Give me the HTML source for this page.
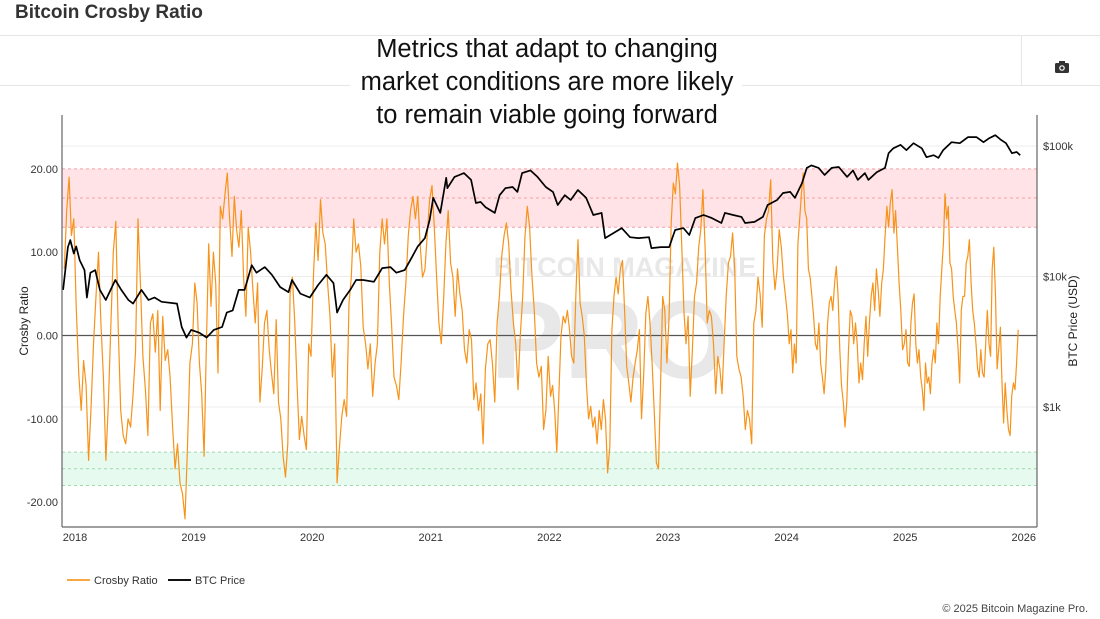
<!DOCTYPE html>
<html><head><meta charset="utf-8"><style>
body{margin:0;background:#fff;font-family:"Liberation Sans",sans-serif;}
#wrap{position:relative;width:1100px;height:619px;overflow:hidden;background:#fff}
</style></head><body>
<div id="wrap">
<svg id="chart" width="1100" height="619" xmlns="http://www.w3.org/2000/svg">
<text x="15" y="18" font-size="19" font-weight="bold" fill="#333">Bitcoin Crosby Ratio</text>
<line x1="0" y1="35.5" x2="1100" y2="35.5" stroke="#e6e6e6"/>
<line x1="0" y1="85.5" x2="1100" y2="85.5" stroke="#e6e6e6"/>
<line x1="1021.5" y1="35" x2="1021.5" y2="85" stroke="#e6e6e6"/>
<g transform="translate(1062,68)">
<rect x="-7" y="-5" width="14" height="10" rx="1.5" fill="#333"/><rect x="-3" y="-7" width="6" height="3" fill="#333"/><circle cx="0" cy="0" r="2.8" fill="#fff"/><circle cx="0" cy="0" r="1.6" fill="#333"/>
</g>
<g id="plot"></g>
<rect x="350" y="36" width="392" height="92" fill="#fff"/>
<g font-size="25.5" fill="#111" text-anchor="middle">
<text x="547" y="57">Metrics that adapt to changing</text>
<text x="547" y="90">market conditions are more likely</text>
<text x="547" y="123">to remain viable going forward</text>
</g>
<g font-size="11" fill="#333">
<g><line x1="67" y1="580" x2="90" y2="580" stroke="#f7a845" stroke-width="2"/><text x="94" y="584">Crosby Ratio</text></g>
<g><line x1="168" y1="580" x2="191" y2="580" stroke="#111" stroke-width="2"/><text x="195" y="584">BTC Price</text></g>
</g>
<text x="1088" y="612" font-size="11" fill="#444" text-anchor="end">© 2025 Bitcoin Magazine Pro.</text>
</svg>
</div>
<script>
// ---- data ----
const segStart = [2017.9, 2018, 2019, 2020, 2021, 2022, 2023, 2024, 2025];
const segEnd   = [2018, 2019, 2020, 2021, 2022, 2023, 2024, 2025, 2025.96];
const crosby2017 = [8,15,19,12,14];
const crosby2018 = [3.5,-4.5,-9,-3,-6,-15,-8.5,-1,4.7,10,1.5,-5,-15,-8,1,10,13.7,1,-9,-12,-13,-10,-11,-7,-2,14,6,-2.5,-6.5,-12,1.5,2.6,-2,3,-9,2.3,-3,-1.7,-5,-11,-16,-13,-17.7,-19,-22,-13.7,-3.3,-1];
const crosby2019 = [6.3,3.9,-3.3,-7,-14.5,-1,11,3.5,10,6.3,-4.5,15.5,14,17,19.5,14,9.5,16.7,12.7,10.6,15,7,2.3,13,10,5.5,1.5,6.3,-8,-4,1.5,3,-1.7,-4.5,-7,1.9,-8,-10,-14.5,-17,-13,5,7,1.5,-6,-12.5,-9.7,-12,-13.7,-1,-2.5];
const crosby2020 = [7,13.5,9,16.3,12.3,11,6.3,2.3,-5,-1,-17.7,-13.3,-9.7,-7.7,-9.7,3.9,7,14,10,11,8.3,1,-1,-4,-1,-7.3,-3.3,-1,10,14,11,14,6.3,1,-5,-6,-7.7,-3.3,2.3,6.3,12,15,16.7,14,16.7,11,7,7.9,12,16.3];
const crosby2021 = [18,13,7,1.5,-1,4.3,11,15,8.7,7,2.3,8,5,3,-1.7,-3.3,0.7,-0.5,-7.7,-5.7,-9,-7,-13,-4,-1,-0.5,-3.3,-8,1.5,4.7,9.5,12,13.5,11,5.5,1.5,-1,-6.5,0,4.7,12,15.5,13,7,3,-3.3,-5,-3.7,-11.3,-9,-2.5];
const crosby2022 = [-7.3,-6,-9,-14,-7,0,2.3,1.5,3,0.7,-2.5,-3.3,5,11.5,3.9,2.3,0,-6,-10,-8.5,-11,-9.8,-13,-9,-11.3,-7.7,-10,-16.5,-13.4,0.7,4.7,7,5,8,9,3,-3.7,-5.7,-8,-5,-3.3,-1.7,0.7,-10,-5,2.6,4.7,1.5,-3.3,-9,-15.3,-16,-5.7,4.7,3,-3.3];
const crosby2023 = [2.3,13.5,18.3,17,20.7,18,10.6,3,-1,2.3,-7.3,-1.7,4.7,6.3,10.6,12.7,17.5,10.6,1.5,3,2.3,-1,-7,-2.5,-4,-7,-1,4.7,8.7,9.5,12.3,8,-2.5,-4,-5,-7.3,-11.3,-9,-10,-13,1.5,3,7,5,1,12,14,15,18.7,9,5.5,8,12.7,10.6,7,4.7];
const crosby2024 = [2.3,-1,0.7,-4.5,-1,-3.3,11,14,17,19.5,15,14,8,7,4.7,2.3,-1,-1.7,1.5,-3.3,-5,-7,-4,1.5,3.9,4.7,3,6.3,8.3,4.7,-1.7,-6,-8,-11,-8,-1.7,3,2.3,-1,1.5,-1,-5.7,-3.3,-5.3,-1,2.3,-2.5,1.5,4.7,6.3,3,8,5.5,2.3,6.3,8,12,15.5,13,16,17.5,12.3,15,10.6,6.3,3,-1.7,-1];
const crosby2025 = [0.7,-3.3,-3.7,1.5,3.9,5,-1,-3.3,-1.7,-5,-6.5,-9,-3.3,-5.7,-5,-7,-3.3,-1.7,-3.3,1.5,-1,4.7,8,11,17,14,15.5,8.7,8,4.7,3,1.5,-1.7,-5.7,3,4.7,4.7,8.7,9.5,11.5,6.3,3,1.5,-1,-4,-5,-1.7,-4.5,-5,-1,3,-1,-2.5,8,10.6,4.7,-4,-1.7,1,-5.7,-10.5,-5.7,-9,-11.3,-12,-7.3,-5.7,-6.5,-3.3,0.7];
const crosbySegments = [crosby2017,crosby2018,crosby2019,crosby2020,crosby2021,crosby2022,crosby2023,crosby2024,crosby2025];

const priceDates = [2017.90,2017.94,2017.96,2017.99,2018.01,2018.04,2018.08,2018.10,2018.13,2018.17,2018.21,2018.26,2018.30,2018.34,2018.39,2018.45,2018.49,2018.56,2018.62,2018.67,2018.73,2018.86,2018.90,2018.94,2018.98,2019.05,2019.11,2019.17,2019.24,2019.28,2019.33,2019.38,2019.43,2019.49,2019.53,2019.60,2019.66,2019.73,2019.80,2019.83,2019.90,2019.98,2020.05,2020.12,2020.18,2020.21,2020.26,2020.32,2020.37,2020.43,2020.52,2020.59,2020.66,2020.71,2020.78,2020.84,2020.89,2020.95,2020.99,2021.02,2021.08,2021.13,2021.14,2021.20,2021.24,2021.28,2021.34,2021.38,2021.42,2021.46,2021.54,2021.58,2021.63,2021.69,2021.73,2021.77,2021.84,2021.90,2021.97,2022.03,2022.07,2022.13,2022.18,2022.24,2022.31,2022.37,2022.44,2022.47,2022.54,2022.61,2022.68,2022.75,2022.84,2022.86,2022.94,2023.01,2023.06,2023.13,2023.18,2023.23,2023.30,2023.37,2023.45,2023.48,2023.55,2023.62,2023.65,2023.73,2023.80,2023.84,2023.92,2023.97,2024.03,2024.07,2024.13,2024.17,2024.21,2024.27,2024.32,2024.38,2024.44,2024.51,2024.56,2024.60,2024.66,2024.69,2024.76,2024.83,2024.86,2024.90,2024.96,2025.01,2025.07,2025.14,2025.18,2025.24,2025.28,2025.32,2025.39,2025.46,2025.53,2025.60,2025.66,2025.71,2025.76,2025.81,2025.85,2025.90,2025.94,2025.97];
const priceValues = [7900,16800,19000,15000,17000,13300,11200,6900,10700,11200,7900,6600,7900,9400,7900,6600,6200,7900,6600,6900,6400,6200,4100,3400,3900,3700,3400,3900,4100,5300,5500,7900,7900,12200,10700,11800,10300,8300,7600,9400,7400,6900,8600,10300,8900,5300,6600,7900,9400,9400,9100,11600,11800,10700,11200,14000,17000,19700,27000,40000,30700,57000,47600,58000,60000,62000,55000,36600,37300,34000,30700,42000,47600,48500,44500,62000,65000,58000,48500,44500,35300,42000,38600,46000,40000,29600,30700,19700,21500,23500,20000,19700,20000,16500,16800,16800,22700,23500,20800,28000,29600,28000,25700,30700,29600,28600,25700,26200,28600,35300,38600,43600,44500,40000,52000,68000,71000,68000,60000,68000,69000,58000,65000,55000,62000,55000,63000,68000,88000,96000,102000,93000,105000,96000,82000,85000,81000,93000,107000,105000,117000,117000,107000,115000,121000,111000,105000,88000,90000,85000];

const leftTicks = [20,10,0,-10,-20];
const leftTickLabels = ["20.00","10.00","0.00","-10.00","-20.00"];
const rightTicks = [100000,10000,1000];
const rightTickLabels = ["$100k","$10k","$1k"];
const xTicks = [2018,2019,2020,2021,2022,2023,2024,2025,2026];
const redBand = [13,20];
const redLines = [20,16.5,13];
const greenBand = [-18,-14];
const greenLines = [-14,-16,-18];

// ---- axes ----
const PL=62, PR=1037, PT=115, PB=527;
const xS = y => 75 + (y-2018)*118.6;
const yL = v => 335.5 - v*8.33;
const yR = p => 146 + (5-Math.log10(p))*130.5;
const NS="http://www.w3.org/2000/svg";
const plot=document.getElementById('plot');
function mk(tag,attrs,parent){const e=document.createElementNS(NS,tag);for(const k in attrs)e.setAttribute(k,attrs[k]);(parent||plot).appendChild(e);return e;}

let e=mk('rect',{x:PL,y:yL(redBand[1]),width:PR-PL,height:yL(redBand[0])-yL(redBand[1]),fill:'#ffe3e6'});


e=mk('rect',{x:PL,y:yL(greenBand[1]),width:PR-PL,height:yL(greenBand[0])-yL(greenBand[1]),fill:'#e6faf0'});


redLines.forEach(v=>{const l=mk('line',{x1:PL,x2:PR,y1:yL(v),y2:yL(v),stroke:'#f4a0a8','stroke-dasharray':'3,3','stroke-width':1});

});
greenLines.forEach(v=>{const l=mk('line',{x1:PL,x2:PR,y1:yL(v),y2:yL(v),stroke:'#9fd8ae','stroke-dasharray':'3,3','stroke-width':1});

});
rightTicks.forEach((p,i)=>{const l=mk('line',{x1:PL,x2:PR,y1:yR(p),y2:yR(p),stroke:'#ececec'});


const t=mk('text',{x:PR+6,y:yR(p)+4,'font-size':11,fill:'#333'});t.textContent=rightTickLabels[i];

});
let w=mk('text',{x:625,y:276,'font-size':27,'font-weight':'bold',fill:'#e8e8e8','text-anchor':'middle'});w.textContent='BITCOIN MAGAZINE';


w=mk('text',{x:610,y:378,'font-size':110,'font-weight':'bold',fill:'#e8e8e8','text-anchor':'middle'});w.textContent='PRO';


e=mk('line',{x1:PL,x2:PR,y1:yL(0),y2:yL(0),stroke:'#555','stroke-width':1.2});


leftTicks.forEach((v,i)=>{const t=mk('text',{x:PL-4,y:yL(v)+4,'font-size':11,fill:'#333','text-anchor':'end'});t.textContent=leftTickLabels[i];

});
xTicks.forEach(y=>{const t=mk('text',{x:xS(y),y:541,'font-size':11,fill:'#333','text-anchor':'middle'});t.textContent=y;

});
e=mk('text',{x:0,y:0,'font-size':12,fill:'#222','text-anchor':'middle',transform:'translate(28,321) rotate(-90)'});e.textContent='Crosby Ratio';


e=mk('text',{x:0,y:0,'font-size':12,fill:'#222','text-anchor':'middle',transform:'translate(1077,321) rotate(-90)'});e.textContent='BTC Price (USD)';


let pts=[];
crosbySegments.forEach((arr,s)=>{const n=arr.length;arr.forEach((v,i)=>{const t=segStart[s]+(i+0.5)/n*(segEnd[s]-segStart[s]);pts.push(xS(t).toFixed(1)+','+yL(v).toFixed(1));});});
e=mk('polyline',{points:pts.join(' '),fill:'none',stroke:'#f7931a','stroke-width':1.2,'stroke-linejoin':'round'});


pts=priceDates.map((d,i)=>xS(d).toFixed(1)+','+yR(priceValues[i]).toFixed(1));
e=mk('polyline',{points:pts.join(' '),fill:'none',stroke:'#000','stroke-width':1.7,'stroke-linejoin':'round'});


e=mk('line',{x1:PL,x2:PL,y1:PT,y2:PB,stroke:'#666','stroke-width':1.2});


e=mk('line',{x1:PR,x2:PR,y1:PT,y2:PB,stroke:'#666','stroke-width':1.2});


e=mk('line',{x1:PL,x2:PR,y1:PB,y2:PB,stroke:'#666','stroke-width':1.2});


</script>
</body></html>
